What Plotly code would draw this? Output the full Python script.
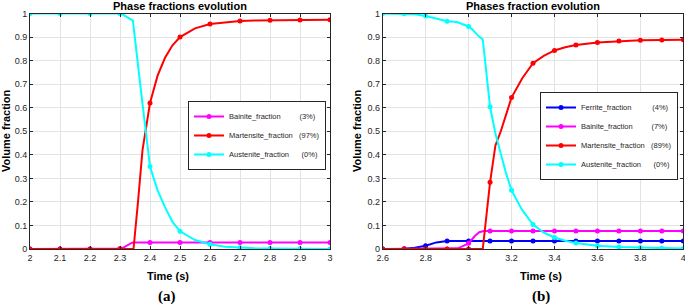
import plotly.graph_objects as go

# ---------------- (a) data ----------------
time_a = [2.0, 2.1, 2.2, 2.3, 2.4, 2.5, 2.6, 2.7, 2.8, 2.9, 3.0]
bainite_a = [0, 0, 0, 0.002, 0.028, 0.028, 0.028, 0.028, 0.028, 0.028, 0.028]
martensite_a = [0, 0, 0, 0, 0.62, 0.90, 0.955, 0.968, 0.971, 0.972, 0.973]
austenite_a = [1, 1, 1, 1, 0.35, 0.075, 0.02, 0.005, 0.002, 0.001, 0.0]
# intermediate curve points (between markers)
bainite_a_xt = [2.31, 2.34, 2.35]
bainite_a_xv = [0.005, 0.027, 0.028]
martensite_a_xt = [2.345, 2.36, 2.375, 2.425, 2.45, 2.475, 2.55, 2.65, 2.75]
martensite_a_xv = [0.0, 0.2, 0.42, 0.735, 0.812, 0.865, 0.937, 0.963, 0.970]
austenite_a_xt = [2.31, 2.343, 2.37, 2.425, 2.45, 2.475, 2.55, 2.65, 2.75]
austenite_a_xv = [0.995, 0.97, 0.67, 0.25, 0.178, 0.115, 0.038, 0.01, 0.003]

# ---------------- (b) data ----------------
time_b = [2.6, 2.7, 2.8, 2.9, 3.0, 3.1, 3.2, 3.3, 3.4, 3.5, 3.6, 3.7, 3.8, 3.9, 4.0]
ferrite_b = [0, 0.001, 0.014, 0.034, 0.034, 0.034, 0.034, 0.034, 0.034, 0.034, 0.034, 0.034, 0.034, 0.034, 0.034]
bainite_b = [0, 0, 0, 0, 0.024, 0.076, 0.076, 0.076, 0.076, 0.076, 0.076, 0.076, 0.076, 0.076, 0.076]
martensite_b = [0, 0, 0, 0, 0, 0.283, 0.643, 0.789, 0.843, 0.866, 0.877, 0.883, 0.886, 0.887, 0.889]
austenite_b = [1.0, 0.999, 0.989, 0.967, 0.945, 0.604, 0.249, 0.104, 0.049, 0.025, 0.014, 0.008, 0.005, 0.003, 0.002]
ferrite_b_xt = [2.75, 2.85, 2.95]
ferrite_b_xv = [0.005, 0.028, 0.034]
bainite_b_xt = [2.95, 3.03, 3.05, 3.07]
bainite_b_xv = [0.003, 0.056, 0.071, 0.076]
martensite_b_xt = [3.066, 3.125, 3.15, 3.175, 3.25, 3.35, 3.45]
martensite_b_xv = [0.0, 0.44, 0.50, 0.575, 0.725, 0.82, 0.857]
austenite_b_xt = [2.75, 2.85, 2.945, 3.02, 3.045, 3.066, 3.125, 3.15, 3.175, 3.25, 3.35, 3.45]
austenite_b_xv = [0.997, 0.978, 0.964, 0.93, 0.905, 0.89, 0.49, 0.40, 0.32, 0.165, 0.07, 0.035]

NB = "\u00a0"
names_a = ["Bainite_fraction" + NB * 9 + "(3%)",
           "Martensite_fraction" + NB * 3 + "(97%)",
           "Austenite_fraction" + NB * 6 + "(0%)"]
names_b = ["Ferrite_fraction" + NB * 10 + "(4%)",
           "Bainite_fraction" + NB * 9 + "(7%)",
           "Martensite_fraction" + NB * 3 + "(89%)",
           "Austenite_fraction" + NB * 6 + "(0%)"]

MAGENTA, RED, CYAN, BLUE = "#FF00FF", "#FF0000", "#00FFFF", "#0000FF"


def merge(t, v, xt, xv):
    pts = sorted(list(zip(t, v)) + list(zip(xt, xv)))
    return [p[0] for p in pts], [p[1] for p in pts]


fig = go.Figure()


def add_series(t, v, xt, xv, color, name, xa, ya, legend):
    ct, cv = merge(t, v, xt, xv)
    fig.add_trace(go.Scatter(x=ct, y=cv, mode="lines", line=dict(color=color, width=2),
                             xaxis=xa, yaxis=ya, showlegend=False, hoverinfo="skip"))
    fig.add_trace(go.Scatter(x=t, y=v, mode="markers", marker=dict(color=color, size=5),
                             xaxis=xa, yaxis=ya, showlegend=False))
    fig.add_trace(go.Scatter(x=[None], y=[None], mode="lines+markers", name=name,
                             line=dict(color=color, width=2), marker=dict(color=color, size=5),
                             xaxis=xa, yaxis=ya, legend=legend))


add_series(time_a, bainite_a, bainite_a_xt, bainite_a_xv, MAGENTA, names_a[0], "x", "y", "legend")
add_series(time_a, martensite_a, martensite_a_xt, martensite_a_xv, RED, names_a[1], "x", "y", "legend")
add_series(time_a, austenite_a, austenite_a_xt, austenite_a_xv, CYAN, names_a[2], "x", "y", "legend")

add_series(time_b, ferrite_b, ferrite_b_xt, ferrite_b_xv, BLUE, names_b[0], "x2", "y2", "legend2")
add_series(time_b, bainite_b, bainite_b_xt, bainite_b_xv, MAGENTA, names_b[1], "x2", "y2", "legend2")
add_series(time_b, martensite_b, martensite_b_xt, martensite_b_xv, RED, names_b[2], "x2", "y2", "legend2")
add_series(time_b, austenite_b, austenite_b_xt, austenite_b_xv, CYAN, names_b[3], "x2", "y2", "legend2")

W, H = 685, 307
FONT = "Liberation Sans, Arial, sans-serif"
axis_common = dict(showgrid=True, gridcolor="#e3e3e3", gridwidth=1, zeroline=False,
                   showline=True, linecolor="#262626", linewidth=1, mirror="ticks",
                   ticks="inside", ticklen=3, tickcolor="#262626", automargin=False,
                   ticklabeloverflow="allow",
                   tickfont=dict(family=FONT, size=9, color="#262626"))

ydom = [1 - 249 / H, 1 - 13.5 / H]
legend_common = dict(xanchor="left", yanchor="top", bgcolor="white",
                     bordercolor="#262626", borderwidth=1,
                     font=dict(family=FONT, size=7.5, color="#262626"),
                     itemwidth=30, tracegroupgap=0)
fig.update_layout(
    width=W, height=H, margin=dict(l=0, r=0, t=0, b=0, autoexpand=False),
    paper_bgcolor="white", plot_bgcolor="white",
    xaxis=dict(domain=[30 / W, 330 / W], range=[2, 3], dtick=0.1, anchor="y", **axis_common),
    yaxis=dict(domain=ydom, range=[0, 1], dtick=0.1, anchor="x", **axis_common),
    xaxis2=dict(domain=[382.7 / W, 683.3 / W], range=[2.6, 4], dtick=0.2, anchor="y2", **axis_common),
    yaxis2=dict(domain=ydom, range=[0, 1], dtick=0.1, anchor="x2", **axis_common),
    legend=dict(x=188 / W, y=1 - 101 / H, **legend_common),
    legend2=dict(x=540 / W, y=1 - 92 / H, **legend_common),
    showlegend=True,
)

ann = []
def A(text, xpx, ypx, size, bold=True, family=FONT, angle=0):
    ann.append(dict(text=("<b>%s</b>" % text) if bold else text, x=xpx / W, y=1 - ypx / H,
                    xref="paper", yref="paper", showarrow=False, xanchor="center", yanchor="middle",
                    textangle=angle, font=dict(family=family, size=size, color="black")))

A("Phase fractions evolution", 180, 5.5, 11)
A("Phases fraction evolution", 533, 5.5, 11)
A("Volume fraction", 6, 131, 11, angle=-90)
A("Volume fraction", 357, 131, 11, angle=-90)
A("Time (s)", 168, 276, 11)
A("Time (s)", 541, 276, 11)
A("(a)", 167, 296.5, 15, family="Liberation Serif, Times New Roman, serif")
A("(b)", 541, 296.5, 15, family="Liberation Serif, Times New Roman, serif")
fig.update_layout(annotations=ann)

fig.write_html("out.html", config={"displayModeBar": False},
               post_script="document.body.style.margin='0';document.body.style.overflow='hidden';")
